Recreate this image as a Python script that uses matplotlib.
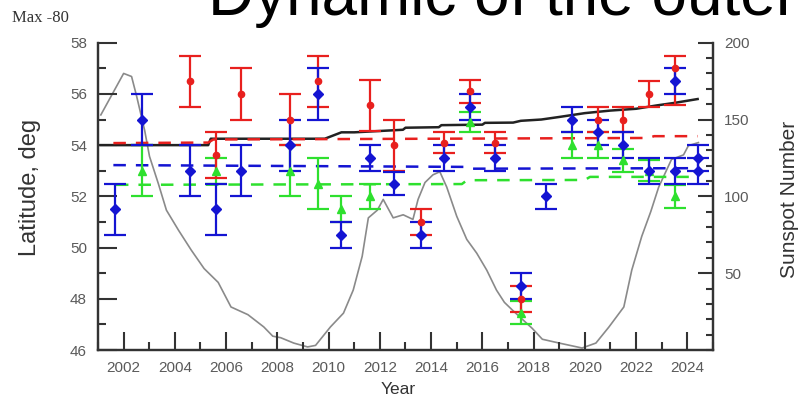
import matplotlib
matplotlib.use("Agg")
import matplotlib.pyplot as plt
from matplotlib.ticker import MultipleLocator
import numpy as np

plt.rcParams['font.family'] = ['Liberation Sans', 'DejaVu Sans']

# ---------------- data ----------------
red_year = [2004.6, 2005.6, 2006.6, 2008.5, 2009.6, 2011.6, 2012.55, 2013.6, 2014.5,
            2015.5, 2016.5, 2017.5, 2020.5, 2021.5, 2022.5, 2023.5]
red_lat = [56.5, 53.6, 56.0, 55.0, 56.5, 55.55, 54.0, 51.0, 54.1,
           56.1, 54.1, 48.0, 55.0, 55.0, 56.0, 57.0]
red_elo = [1.0, 0.9, 1.0, 1.0, 1.0, 1.0, 1.0, 0.5, 0.4,
           0.45, 0.4, 0.5, 0.5, 0.5, 0.5, 1.45]
red_ehi = [1.0, 0.9, 1.0, 1.0, 1.0, 1.0, 1.0, 0.5, 0.4,
           0.45, 0.4, 0.5, 0.5, 0.5, 0.5, 0.5]

blue_year = [2001.65, 2002.7, 2004.6, 2005.6, 2006.6, 2008.5, 2009.6, 2010.5, 2011.6,
             2012.55, 2013.6, 2014.5, 2015.5, 2016.5, 2017.5, 2018.5, 2019.5, 2020.5,
             2021.5, 2022.5, 2023.5, 2023.5, 2024.4, 2024.4]
blue_lat = [51.5, 55.0, 53.0, 51.5, 53.0, 54.0, 56.0, 50.5, 53.5,
            52.5, 50.5, 53.5, 55.5, 53.5, 48.5, 52.0, 55.0, 54.5,
            54.0, 53.0, 56.5, 53.0, 53.5, 53.0]
blue_err = [1.0, 1.0, 1.0, 1.0, 1.0, 1.0, 1.0, 0.5, 0.5,
            0.45, 0.5, 0.5, 0.5, 0.5, 0.5, 0.5, 0.5, 0.5,
            0.5, 0.5, 0.5, 0.5, 0.5, 0.5]

green_year = [2002.7, 2005.6, 2008.5, 2009.6, 2010.5, 2011.6, 2015.5, 2017.5,
              2019.5, 2020.5, 2021.5, 2022.5, 2023.5]
green_lat = [53.0, 53.0, 53.0, 52.5, 51.5, 52.0, 54.9, 47.45,
             54.0, 54.0, 53.4, 53.0, 52.0]
green_err = [1.0, 0.5, 1.0, 1.0, 0.5, 0.5, 0.4, 0.45,
             0.5, 0.5, 0.45, 0.4, 0.45]

red_trend_year = [2001.6, 2005.3, 2005.5, 2022.5, 2022.7, 2024.4]
red_trend = [54.08, 54.1, 54.22, 54.28, 54.35, 54.35]
blue_trend_year = [2001.6, 2009.5, 2015.4, 2015.6, 2024.4]
blue_trend = [53.22, 53.18, 53.15, 53.08, 53.1]
green_trend_year = [2001.7, 2015.2, 2015.4, 2020.0, 2020.2, 2024.4]
green_trend = [52.45, 52.48, 52.63, 52.64, 52.76, 52.76]

mean_year = [2001.1, 2005.3, 2005.4, 2009.85, 2010.5, 2011.0, 2012.9, 2013.0, 2014.3,
             2014.4, 2016.0, 2016.1, 2017.2, 2017.5, 2018.3, 2019.0, 2020.0, 2021.0,
             2022.0, 2022.8, 2023.5, 2024.4]
mean_lat = [54.0, 54.0, 54.25, 54.25, 54.5, 54.5, 54.6, 54.68, 54.7,
            54.78, 54.8, 54.87, 54.88, 54.95, 55.0, 55.1, 55.25, 55.35,
            55.42, 55.55, 55.65, 55.8]

ssn_year = [2001.11, 2002.0, 2002.31, 2002.51, 2002.82, 2003.01, 2003.36, 2003.67, 2004.14,
            2004.64, 2005.14, 2005.69, 2006.19, 2006.85, 2007.47, 2007.82, 2008.13, 2008.64,
            2009.18, 2009.49, 2010.07, 2010.58, 2010.96, 2011.31, 2011.55, 2011.9, 2012.13,
            2012.52, 2012.91, 2013.29, 2013.49, 2013.76, 2014.07, 2014.34, 2014.61, 2015.0,
            2015.39, 2015.78, 2016.17, 2016.55, 2016.86, 2017.17, 2017.95, 2018.34, 2019.0,
            2019.89, 2020.43, 2020.94, 2021.52, 2021.83, 2022.22, 2022.57, 2022.88, 2023.38,
            2023.85, 2024.04, 2024.43]
ssn = [153, 180, 178, 165, 143, 126, 108, 91, 78,
       65, 53, 44, 28, 23, 15, 9, 8, 4.5,
       2, 3, 15, 24, 39, 61, 86, 91, 98,
       86, 88, 85, 98, 109, 114, 116, 106, 87,
       72, 63, 52, 39, 31, 26, 14, 7, 4.5,
       1.3, 4.5, 15, 28, 52, 74, 90, 106, 124,
       127, 133, 135]

lat_ticks = [46, 48, 50, 52, 54, 56, 58]
year_ticks = list(range(2002, 2025, 2))
ssn_ticks = [50, 100, 150, 200]

# ---------------- style ----------------
RED = '#e8201e'
BLUE = '#1414d2'
GREEN = '#2ee02e'
SPINE = '#333333'
TICKLBL = '#5a5a5a'

fig = plt.figure(figsize=(8.04, 4.01), dpi=100)
ax = fig.add_axes([98 / 804, 1 - 350 / 401, 615 / 804, 307.3 / 401])
ax2 = ax.twinx()
ax.set_zorder(ax2.get_zorder() + 1)
ax.patch.set_visible(False)

# sunspot line
ax2.plot(ssn_year, ssn, color='#8a8a8a', lw=1.2)
ax2.set_ylim(0, 200)
ax2.set_yticks(ssn_ticks)
ax2.yaxis.set_minor_locator(MultipleLocator(10))

# trend and mean lines
ax.plot(mean_year, mean_lat, color='#222222', lw=1.8)
ax.plot(red_trend_year, red_trend, color=RED, lw=1.8, dashes=(5, 4))
ax.plot(blue_trend_year, blue_trend, color=BLUE, lw=1.8, dashes=(5, 4))
ax.plot(green_trend_year, green_trend, color=GREEN, lw=1.8, dashes=(5, 4))

ekw = dict(ls='none', capsize=8, elinewidth=1.6, capthick=1.6)
ax.errorbar(green_year, green_lat, yerr=green_err, color=GREEN, marker='^', ms=6, **ekw)
ax.errorbar(red_year, red_lat, yerr=[red_elo, red_ehi], color=RED, marker='o', ms=4.5, **ekw)
ax.errorbar(blue_year, blue_lat, yerr=blue_err, color=BLUE, marker='D', ms=5.5, **ekw)

ax.set_xlim(2001, 2025)
ax.set_ylim(46, 58)
ax.set_yticks(lat_ticks)
ax.yaxis.set_minor_locator(MultipleLocator(1))
ax.set_xticks(year_ticks)
ax.xaxis.set_minor_locator(MultipleLocator(1))

for a in (ax, ax2):
    a.spines['top'].set_visible(False)
    for s in ('left', 'right', 'bottom'):
        a.spines[s].set_color(SPINE)
        a.spines[s].set_linewidth(1.6)

ax.tick_params(axis='y', which='major', direction='in', length=14, width=1.5, color=SPINE,
               labelsize=11, labelcolor=TICKLBL, pad=8)
ax.tick_params(axis='y', which='minor', direction='in', length=6, width=1.5, color=SPINE)
ax.tick_params(axis='x', which='major', direction='in', length=13, width=1.5, color=SPINE,
               labelsize=11, labelcolor=TICKLBL, pad=8)
ax.tick_params(axis='x', which='minor', direction='in', length=6, width=1.5, color=SPINE)
ax2.tick_params(axis='y', which='major', direction='in', length=11, width=1.5, color=SPINE,
                labelsize=11, labelcolor=TICKLBL, pad=8)
ax2.tick_params(axis='y', which='minor', direction='in', length=5, width=1.5, color=SPINE)

fig.text(30 / 804, 1 - 187 / 401, 'Latitude, deg', rotation=90, ha='center', va='center',
         fontsize=17, color='#333333')
fig.text(790 / 804, 1 - 199 / 401, 'Sunspot Number', rotation=90, ha='center', va='center',
         fontsize=15, color='#333333')
fig.text(398 / 804, 1 - 390 / 401, 'Year', ha='center', va='center', fontsize=12.5, color='#333333')
fig.text(12 / 804, 1 - 18 / 401, 'Max -80', ha='left', va='center', fontsize=12,
         family=['Liberation Serif', 'DejaVu Serif'], color='#333333')
fig.text(208 / 804, 1 - 15 / 401, 'Dynamic of the outer', ha='left', va='baseline',
         fontsize=46, color='black')

fig.savefig('out.png', dpi=100)
